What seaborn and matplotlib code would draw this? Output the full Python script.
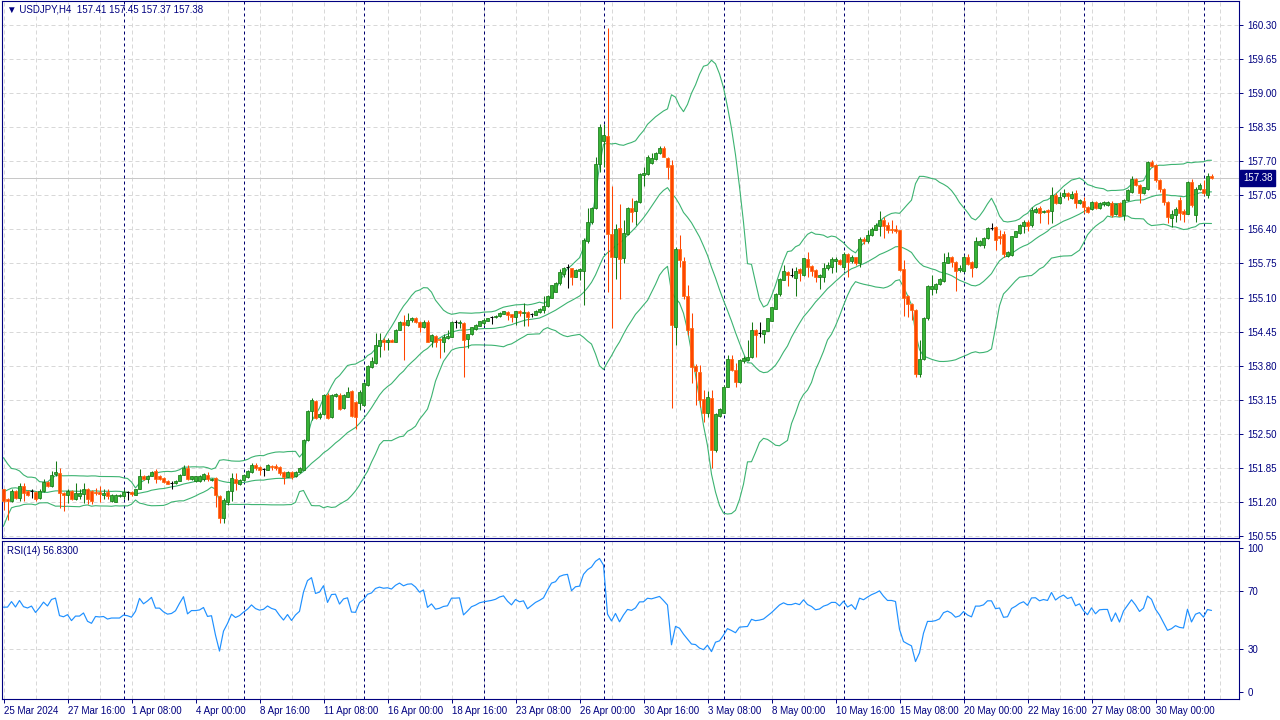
"""USDJPY H4 candlestick chart with Bollinger Bands (20, 2) and RSI(14), MT4 look.

Run:  python3 plot.py   ->  out.png (1280x720)
"""

import matplotlib
matplotlib.use("Agg")
import matplotlib.pyplot as plt
import matplotlib.transforms as mtransforms
import numpy as np
import pandas as pd
import seaborn as sns

# --------------------------------------------------------------------------- #
# Data.  Bar 0 = 25 Mar 2024 00:00, one bar = 4 h.
# --------------------------------------------------------------------------- #
# closes before the visible window, only used to warm up the indicators
WARMUP_CLOSES = [
    150.40, 150.55, 150.75, 150.60, 150.50, 150.45, 150.70, 151.15, 151.75, 151.85,
    151.70, 151.40, 151.55, 151.75, 151.60, 151.50, 151.40, 151.52, 151.36, 151.45,
    151.34, 151.28, 151.40, 151.44,
]

OPENS = [
    151.44, 151.26, 151.21, 151.40, 151.28, 151.51, 151.40, 151.40, 151.38, 151.28,
    151.40, 151.58, 151.50, 151.74, 151.76, 151.37, 151.34, 151.40, 151.25, 151.32,
    151.36, 151.45, 151.40, 151.39, 151.39, 151.34, 151.39, 151.21, 151.20, 151.32,
    151.31, 151.38, 151.39, 151.34, 151.45, 151.69, 151.63, 151.70, 151.79, 151.69,
    151.66, 151.60, 151.56, 151.56, 151.60, 151.72, 151.85, 151.63, 151.60, 151.60,
    151.63, 151.71, 151.61, 151.66, 151.31, 150.89, 151.20, 151.40, 151.63, 151.55,
    151.62, 151.68, 151.78, 151.91, 151.87, 151.83, 151.81, 151.89, 151.88, 151.87,
    151.78, 151.68, 151.78, 151.69, 151.78, 151.81, 152.38, 152.94, 153.12, 152.83,
    152.88, 153.24, 152.83, 153.22, 153.24, 152.99, 153.21, 153.32, 153.11, 153.08,
    153.05, 153.43, 153.77, 153.86, 154.18, 154.29, 154.26, 154.29, 154.26, 154.49,
    154.64, 154.58, 154.67, 154.70, 154.64, 154.54, 154.63, 154.28, 154.37, 154.30,
    154.26, 154.32, 154.35, 154.63, 154.61, 154.62, 154.30, 154.40, 154.50, 154.56,
    154.61, 154.66, 154.72, 154.72, 154.74, 154.79, 154.83, 154.78, 154.73, 154.85,
    154.80, 154.83, 154.79, 154.77, 154.82, 154.86, 154.93, 155.10, 155.21, 155.37,
    155.55, 155.69, 155.66, 155.50, 155.60, 155.61, 156.18, 156.55, 156.80, 157.65,
    158.08, 158.18, 156.31, 155.88, 156.42, 155.85, 156.32, 156.80, 156.76, 156.93,
    157.44, 157.46, 157.67, 157.74, 157.86, 157.96, 157.77, 157.63, 154.54, 156.02,
    155.80, 155.13, 154.51, 153.79, 153.67, 153.16, 152.90, 153.18, 152.19, 152.84,
    152.90, 153.40, 153.92, 153.72, 153.49, 153.88, 153.91, 153.96, 154.48, 154.42,
    154.40, 154.47, 154.66, 154.89, 155.16, 155.44, 155.59, 155.53, 155.47, 155.64,
    155.53, 155.83, 155.70, 155.63, 155.50, 155.50, 155.66, 155.69, 155.79, 155.82,
    155.69, 155.93, 155.80, 155.87, 155.75, 156.21, 156.17, 156.29, 156.39, 156.47,
    156.58, 156.48, 156.40, 156.40, 156.38, 155.64, 155.12, 154.98, 154.86, 153.64,
    153.92, 154.70, 155.26, 155.26, 155.36, 155.42, 155.76, 155.87, 155.78, 155.63,
    155.61, 155.87, 155.78, 155.69, 156.10, 156.10, 156.23, 156.43, 156.45, 156.27,
    156.32, 155.89, 155.92, 156.26, 156.34, 156.46, 156.55, 156.48, 156.74, 156.80,
    156.73, 156.77, 156.76, 157.06, 156.90, 157.04, 157.09, 156.99, 157.09, 156.90,
    156.95, 156.83, 156.78, 156.93, 156.80, 156.88, 156.87, 156.90, 156.69, 156.90,
    156.67, 156.96, 157.12, 157.36, 157.25, 157.09, 157.18, 157.69, 157.63, 157.35,
    157.18, 156.93, 156.61, 156.67, 156.96, 156.76, 156.70, 157.31, 156.68, 157.18,
    157.18, 157.06, 157.41,
]

HIGHS = [
    151.45, 151.28, 151.44, 151.42, 151.56, 151.56, 151.42, 151.44, 151.40, 151.44,
    151.63, 151.60, 151.79, 151.98, 151.85, 151.39, 151.44, 151.42, 151.56, 151.44,
    151.56, 151.47, 151.42, 151.47, 151.50, 151.44, 151.44, 151.35, 151.35, 151.36,
    151.44, 151.41, 151.40, 151.45, 151.82, 151.72, 151.72, 151.79, 151.82, 151.71,
    151.68, 151.61, 151.60, 151.61, 151.73, 151.91, 151.91, 151.70, 151.70, 151.72,
    151.76, 151.77, 151.66, 151.68, 151.33, 151.27, 151.43, 151.75, 151.76, 151.64,
    151.74, 151.80, 151.94, 151.94, 151.88, 151.84, 151.92, 151.91, 151.93, 151.88,
    151.79, 151.79, 151.79, 151.79, 151.87, 152.41, 152.96, 153.18, 153.15, 152.92,
    153.26, 153.28, 153.26, 153.27, 153.28, 153.26, 153.39, 153.33, 153.13, 153.33,
    153.49, 153.81, 153.97, 154.43, 154.43, 154.32, 154.32, 154.31, 154.50, 154.66,
    154.77, 154.80, 154.73, 154.72, 154.65, 154.67, 154.67, 154.41, 154.39, 154.32,
    154.41, 154.48, 154.66, 154.67, 154.67, 154.64, 154.41, 154.54, 154.59, 154.66,
    154.70, 154.71, 154.75, 154.76, 154.82, 154.85, 154.84, 154.79, 154.85, 154.86,
    154.99, 154.84, 154.81, 154.86, 154.90, 155.12, 155.15, 155.34, 155.39, 155.64,
    155.69, 155.74, 155.67, 155.64, 155.66, 156.23, 156.80, 156.82, 157.79, 158.42,
    158.42, 160.24, 157.23, 156.50, 156.88, 156.58, 156.82, 156.99, 156.96, 157.48,
    157.60, 157.82, 157.85, 157.88, 157.99, 157.99, 157.79, 157.72, 156.07, 156.29,
    155.87, 155.34, 154.80, 153.83, 153.81, 153.34, 153.32, 153.34, 152.89, 153.00,
    153.43, 154.00, 154.00, 153.85, 153.93, 153.98, 154.29, 154.64, 154.50, 154.64,
    154.49, 154.70, 154.92, 155.18, 155.47, 155.72, 155.61, 155.66, 155.69, 155.66,
    155.86, 155.96, 155.72, 155.64, 155.55, 155.76, 155.78, 155.88, 155.88, 155.84,
    155.96, 155.95, 155.91, 155.88, 156.25, 156.26, 156.38, 156.45, 156.52, 156.76,
    156.64, 156.55, 156.57, 156.48, 156.39, 155.82, 155.15, 154.99, 154.88, 154.29,
    154.72, 155.34, 155.53, 155.37, 155.48, 155.95, 155.97, 155.89, 155.79, 155.72,
    155.91, 155.94, 155.79, 156.25, 156.19, 156.26, 156.45, 156.53, 156.47, 156.39,
    156.36, 155.99, 156.28, 156.37, 156.50, 156.57, 156.57, 156.83, 156.83, 156.85,
    156.77, 156.79, 157.20, 157.10, 157.12, 157.18, 157.11, 157.14, 157.15, 156.98,
    157.02, 156.84, 156.94, 156.94, 156.92, 156.94, 156.95, 156.95, 156.89, 156.92,
    156.98, 157.17, 157.41, 157.39, 157.26, 157.21, 157.71, 157.72, 157.64, 157.36,
    157.19, 156.94, 156.77, 156.82, 157.02, 156.78, 157.32, 157.36, 157.20, 157.28,
    157.34, 157.48, 157.45,
]

LOWS = [
    151.05, 150.86, 151.20, 151.26, 151.21, 151.21, 151.32, 151.28, 151.21, 151.25,
    151.39, 151.49, 151.49, 151.69, 151.09, 151.02, 151.18, 151.24, 151.24, 151.25,
    151.18, 151.17, 151.17, 151.34, 151.19, 151.25, 151.25, 151.20, 151.19, 151.30,
    151.25, 151.23, 151.31, 151.33, 151.44, 151.61, 151.56, 151.69, 151.56, 151.62,
    151.57, 151.54, 151.44, 151.55, 151.59, 151.71, 151.62, 151.62, 151.58, 151.58,
    151.60, 151.60, 151.60, 151.11, 150.79, 150.79, 151.14, 151.22, 151.43, 151.53,
    151.59, 151.66, 151.76, 151.81, 151.71, 151.70, 151.80, 151.81, 151.81, 151.71,
    151.54, 151.67, 151.64, 151.67, 151.76, 151.80, 152.36, 152.76, 152.79, 152.79,
    152.86, 152.79, 152.81, 153.21, 152.95, 152.97, 153.20, 152.82, 152.59, 152.95,
    153.03, 153.41, 153.75, 153.84, 153.97, 154.10, 154.10, 154.25, 154.25, 154.48,
    153.91, 154.56, 154.63, 154.62, 154.45, 154.52, 154.25, 154.15, 154.16, 153.94,
    154.07, 154.31, 154.34, 154.51, 154.51, 153.59, 154.13, 154.39, 154.49, 154.55,
    154.58, 154.65, 154.60, 154.70, 154.73, 154.78, 154.67, 154.64, 154.58, 154.74,
    154.55, 154.55, 154.72, 154.76, 154.81, 154.80, 154.92, 155.09, 155.20, 155.34,
    155.50, 155.29, 155.34, 155.49, 155.43, 154.96, 156.15, 156.50, 156.78, 157.50,
    157.60, 155.21, 154.51, 155.45, 155.08, 155.75, 156.30, 156.55, 156.48, 156.90,
    157.23, 157.44, 157.65, 157.72, 157.84, 157.78, 157.37, 152.99, 154.20, 155.69,
    155.08, 154.38, 153.46, 153.05, 153.02, 152.73, 152.82, 151.84, 152.16, 152.82,
    152.89, 153.40, 153.70, 153.40, 153.47, 153.85, 153.89, 153.94, 153.97, 154.35,
    154.23, 154.46, 154.65, 154.88, 155.12, 155.43, 155.32, 155.49, 155.13, 155.42,
    155.52, 155.50, 155.51, 155.40, 155.26, 155.40, 155.63, 155.56, 155.59, 155.73,
    155.63, 155.50, 155.75, 155.72, 155.68, 156.13, 156.14, 156.27, 156.38, 156.27,
    156.23, 156.33, 156.34, 156.34, 155.61, 154.74, 154.72, 154.67, 153.59, 153.58,
    153.90, 154.68, 155.15, 155.19, 155.34, 155.40, 155.75, 155.69, 155.23, 155.58,
    155.59, 155.72, 155.49, 155.66, 156.09, 156.04, 156.21, 156.39, 156.01, 156.13,
    155.88, 155.88, 155.90, 156.25, 156.32, 156.33, 156.36, 156.45, 156.71, 156.53,
    156.71, 156.51, 156.53, 156.89, 156.88, 156.99, 156.97, 156.98, 156.80, 156.89,
    156.71, 156.71, 156.77, 156.79, 156.79, 156.85, 156.85, 156.64, 156.68, 156.65,
    156.58, 156.95, 157.10, 157.22, 156.90, 157.08, 157.16, 157.60, 157.31, 157.12,
    156.87, 156.52, 156.44, 156.55, 156.58, 156.55, 156.69, 156.83, 156.55, 157.15,
    157.06, 156.99, 157.37,
]

CLOSES = [
    151.21, 151.21, 151.40, 151.28, 151.51, 151.37, 151.34, 151.40, 151.26, 151.40,
    151.58, 151.50, 151.72, 151.77, 151.37, 151.34, 151.40, 151.25, 151.37, 151.37,
    151.45, 151.26, 151.21, 151.37, 151.36, 151.37, 151.32, 151.34, 151.34, 151.34,
    151.39, 151.38, 151.36, 151.45, 151.70, 151.63, 151.69, 151.77, 151.63, 151.63,
    151.58, 151.55, 151.56, 151.60, 151.72, 151.85, 151.63, 151.69, 151.69, 151.70,
    151.74, 151.63, 151.64, 151.33, 150.89, 151.24, 151.41, 151.65, 151.57, 151.62,
    151.71, 151.79, 151.91, 151.84, 151.81, 151.83, 151.91, 151.87, 151.85, 151.76,
    151.68, 151.78, 151.68, 151.78, 151.85, 152.38, 152.94, 153.14, 152.81, 152.88,
    153.24, 152.81, 153.24, 153.26, 152.97, 153.24, 153.30, 152.84, 152.83, 153.30,
    153.46, 153.79, 153.88, 154.19, 154.29, 154.26, 154.29, 154.26, 154.49, 154.64,
    154.58, 154.68, 154.70, 154.64, 154.54, 154.64, 154.26, 154.39, 154.26, 154.29,
    154.35, 154.37, 154.63, 154.63, 154.64, 154.29, 154.40, 154.53, 154.58, 154.65,
    154.68, 154.70, 154.72, 154.75, 154.81, 154.84, 154.77, 154.72, 154.84, 154.81,
    154.83, 154.73, 154.79, 154.85, 154.89, 154.94, 155.12, 155.33, 155.38, 155.59,
    155.66, 155.69, 155.50, 155.63, 155.65, 156.20, 156.55, 156.81, 157.65, 158.36,
    158.20, 156.31, 155.87, 156.40, 155.83, 156.34, 156.80, 156.74, 156.94, 157.46,
    157.47, 157.79, 157.76, 157.86, 157.96, 157.79, 157.60, 154.58, 156.02, 155.82,
    155.13, 154.48, 153.77, 153.69, 153.15, 152.90, 153.20, 152.19, 152.87, 152.97,
    153.40, 153.92, 153.72, 153.49, 153.91, 153.94, 153.96, 154.48, 154.38, 154.42,
    154.49, 154.70, 154.91, 155.17, 155.45, 155.61, 155.53, 155.53, 155.61, 155.56,
    155.85, 155.68, 155.61, 155.49, 155.53, 155.66, 155.72, 155.83, 155.83, 155.74,
    155.93, 155.78, 155.87, 155.75, 156.21, 156.17, 156.29, 156.40, 156.48, 156.58,
    156.47, 156.38, 156.38, 156.36, 155.63, 155.10, 154.98, 154.87, 153.64, 153.92,
    154.70, 155.32, 155.32, 155.36, 155.45, 155.78, 155.87, 155.78, 155.61, 155.67,
    155.87, 155.74, 155.67, 156.17, 156.17, 156.23, 156.43, 156.43, 156.20, 156.23,
    155.94, 155.96, 156.27, 156.36, 156.48, 156.55, 156.46, 156.77, 156.78, 156.71,
    156.76, 156.74, 157.06, 156.90, 157.02, 157.10, 157.03, 157.08, 156.91, 156.97,
    156.83, 156.74, 156.93, 156.80, 156.91, 156.92, 156.92, 156.67, 156.88, 156.66,
    156.97, 157.16, 157.37, 157.25, 157.09, 157.20, 157.69, 157.61, 157.35, 157.18,
    156.93, 156.64, 156.69, 156.78, 156.72, 156.70, 157.31, 156.87, 157.18, 157.25,
    157.09, 157.41, 157.38,
]

PRICE_TICKS = [150.55, 151.20, 151.85, 152.50, 153.15, 153.80, 154.45, 155.10,
               155.75, 156.40, 157.05, 157.70, 158.35, 159.00, 159.65, 160.30]
RSI_TICKS = [0, 30, 70, 100]
RSI_LEVELS = [30, 70]
LAST_PRICE = 157.38
FIRST_DAY = "2024-03-25"
HEADER = "\u25bc USDJPY,H4  157.41 157.45 157.37 157.38"
RSI_LABEL = "RSI(14) 56.8300"

BB_PERIOD, BB_DEV, RSI_PERIOD = 20, 2, 14
LABEL_EVERY, GRID_EVERY, SEPARATOR_EVERY = 16, 8, 30

NAVY = "#000080"
SEP_COLOR = "#000070"
GRID = "#d8d8d8"
BULL_FILL, BULL_EDGE = "#36b336", "#177a17"
BEAR_FILL, BEAR_EDGE = "#ff4500", "#ff6a10"
BAND_COLOR = "#3cb371"
RSI_COLOR = "#1e90ff"
PX = 0.72  # one pixel in points at dpi 100

W, H = 1280, 720


def px_axes(fig, left, top, right, bottom):
    return fig.add_axes([left / W, 1 - bottom / H, (right - left) / W, (bottom - top) / H])


def style_frame(ax):
    for sp in ax.spines.values():
        sp.set_visible(True)
        sp.set_color(NAVY)
        sp.set_linewidth(0.8)


def main() -> None:
    sns.set_theme(style="white")
    plt.rcParams["font.family"] = ["Liberation Sans", "DejaVu Sans"]

    o = np.array(OPENS)
    h = np.array(HIGHS)
    lo = np.array(LOWS)
    c = np.array(CLOSES)
    n = len(c)
    assert len(o) == len(h) == len(lo) == n, (len(o), len(h), len(lo), n)
    x = np.arange(n)

    # indicators on warm-up + visible closes
    s = pd.Series(WARMUP_CLOSES + CLOSES)
    mid = s.rolling(BB_PERIOD).mean()
    sd = s.rolling(BB_PERIOD).std(ddof=0)
    k = len(WARMUP_CLOSES)
    bands = pd.DataFrame({
        "bar": x,
        "upper": (mid + BB_DEV * sd).values[k:],
        "middle": mid.values[k:],
        "lower": (mid - BB_DEV * sd).values[k:],
    })
    delta = s.diff()
    gain = delta.clip(lower=0).ewm(alpha=1 / RSI_PERIOD, adjust=False).mean()
    loss = (-delta.clip(upper=0)).ewm(alpha=1 / RSI_PERIOD, adjust=False).mean()
    rsi = pd.DataFrame({"bar": x, "rsi": (100 - 100 / (1 + gain / loss)).values[k:]})

    # bar times: 6 H4 bars per weekday
    days = pd.bdate_range(FIRST_DAY, periods=n // 6 + 1)
    times = [d + pd.Timedelta(hours=4 * j) for d in days for j in range(6)][:n]

    fig = plt.figure(figsize=(W / 100, H / 100), dpi=100)
    fig.patch.set_facecolor("white")
    ax = px_axes(fig, 2, 1, 1239, 538)
    axr = px_axes(fig, 2, 541, 1239, 699)

    xlim = ((2 - 3.5) / 4, (1239 - 3.5) / 4)
    ppu = (536 - 25) / (160.30 - 150.55)
    ax.set_ylim(160.30 - (538 - 25) / ppu, 160.30 + (25 - 1) / ppu)
    axr.set_ylim(-(699 - 692) / 1.44, 100 + (548 - 541) / 1.44)

    for a in (ax, axr):
        a.set_facecolor("white")
        a.set_xlim(*xlim)
        style_frame(a)
        for b in range(0, n + 8, GRID_EVERY):
            a.axvline(b, color=GRID, lw=PX, ls=(0, (4, 3)), zorder=0.5)
        for b in range(SEPARATOR_EVERY, n + 8, SEPARATOR_EVERY):
            a.axvline(b, color=SEP_COLOR, lw=PX, ls=(0, (3, 3)), zorder=1.5)

    # ---- price panel ----
    for p in PRICE_TICKS:
        ax.axhline(p, color=GRID, lw=PX, ls=(0, (4, 3)), zorder=0.5)
    ax.axhline(LAST_PRICE, color="#c8c8c8", lw=PX, zorder=1)

    bull = c > o
    bear = c < o
    doji = ~(bull | bear)
    wick_colors = np.where(bull, BULL_EDGE, np.where(bear, BEAR_FILL, "black"))
    ax.vlines(x, lo, h, colors=wick_colors, lw=0.75, zorder=3)
    ax.bar(x[bull], (c - o)[bull], bottom=o[bull], width=0.75,
           color=BULL_FILL, edgecolor=BULL_EDGE, linewidth=0.55, zorder=4)
    ax.bar(x[bear], (o - c)[bear], bottom=c[bear], width=0.75,
           color=BEAR_FILL, edgecolor=BEAR_EDGE, linewidth=0.55, zorder=4)
    ax.hlines(o[doji], x[doji] - 0.45, x[doji] + 0.45, colors="black", lw=0.75, zorder=4)

    for col in ("upper", "middle", "lower"):
        sns.lineplot(data=bands, x="bar", y=col, ax=ax, color=BAND_COLOR,
                     lw=0.8, estimator=None, sort=False, legend=False, zorder=2)

    ax.yaxis.tick_right()
    ax.set_yticks(PRICE_TICKS)
    ax.set_yticklabels([f"{p:.2f}" for p in PRICE_TICKS])
    ax.set_xticks([])
    ax.tick_params(axis="y", direction="out", length=3, width=0.7, color=NAVY,
                   labelcolor=NAVY, labelsize=7, pad=3)
    ax.set_xlabel("")
    ax.set_ylabel("")

    trans = mtransforms.blended_transform_factory(ax.transAxes, ax.transData)
    ax.text(1 + 4 / 1237, LAST_PRICE, f"{LAST_PRICE:.2f}", transform=trans,
            ha="left", va="center", fontsize=7, color="white", zorder=6, clip_on=False,
            bbox=dict(boxstyle="square,pad=0.3", fc=NAVY, ec=NAVY))

    # ---- RSI panel ----
    for lvl in RSI_LEVELS:
        axr.axhline(lvl, color=GRID, lw=PX, ls=(0, (4, 3)), zorder=0.5)
    sns.lineplot(data=rsi, x="bar", y="rsi", ax=axr, color=RSI_COLOR, lw=0.85,
                 estimator=None, sort=False, legend=False, zorder=3)
    axr.yaxis.tick_right()
    axr.set_yticks(RSI_TICKS)
    axr.set_yticklabels([str(t) for t in RSI_TICKS])
    axr.tick_params(axis="y", direction="out", length=3, width=0.7, color=NAVY,
                    labelcolor=NAVY, labelsize=7, pad=3)

    label_bars = list(range(0, n, LABEL_EVERY))
    labels = []
    for b in label_bars:
        t = times[b]
        labels.append(f"{t.day} {t:%b %Y}" if b == 0 else f"{t.day} {t:%b %H:%M}")
    axr.set_xticks(label_bars)
    axr.set_xticklabels(labels, ha="left")
    axr.tick_params(axis="x", direction="out", length=3, width=0.7, color=NAVY,
                    labelcolor=NAVY, labelsize=7, pad=2, bottom=True)
    axr.set_xlabel("")
    axr.set_ylabel("")

    fig.text(7 / W, 1 - 10 / H, HEADER, fontsize=7, color=NAVY, va="center", ha="left")
    fig.text(7 / W, 1 - 551 / H, RSI_LABEL, fontsize=7, color=NAVY, va="center", ha="left")

    fig.savefig("out.png", dpi=100, facecolor="white")
    plt.close(fig)


if __name__ == "__main__":
    main()
